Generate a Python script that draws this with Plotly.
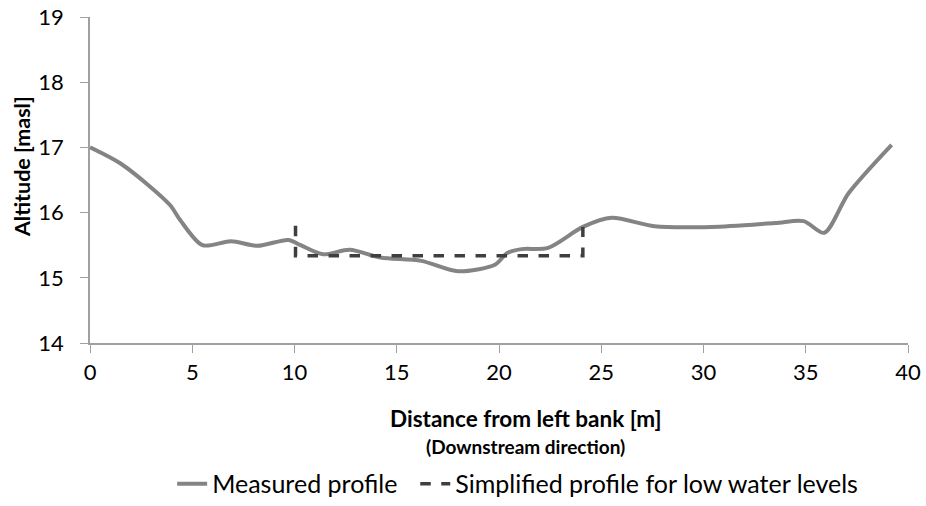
import plotly.graph_objects as go

# Measured profile
measured_x = [0, 1.6, 3.9, 4.4, 5.5, 6.9, 8.2, 9.7, 10.3, 11.4, 12.7, 14.2, 16.2, 18.0, 19.8, 20.4, 21.1, 22.4, 24.1, 25.5, 27.6, 30.4, 33.5, 34.9, 35.9, 37.1, 39.2]
measured_y = [17.0, 16.73, 16.12, 15.89, 15.50, 15.56, 15.49, 15.58, 15.50, 15.36, 15.43, 15.31, 15.26, 15.10, 15.20, 15.38, 15.44, 15.46, 15.78, 15.92, 15.79, 15.78, 15.84, 15.87, 15.69, 16.30, 17.04]

# Simplified profile for low water levels
simple_x = [10.05, 10.05, 24.1, 24.1]
simple_y = [15.80, 15.34, 15.34, 15.78]

x_ticks = [0, 5, 10, 15, 20, 25, 30, 35, 40]
y_ticks = [14, 15, 16, 17, 18, 19]

font = "Lato, 'Open Sans', sans-serif"

fig = go.Figure()
fig.add_trace(go.Scatter(x=measured_x, y=measured_y, mode="lines", name="Measured profile\u00a0\u00a0",
                         line=dict(color="#848484", width=4, shape="spline", smoothing=0.8)))
fig.add_trace(go.Scatter(x=simple_x, y=simple_y, mode="lines", name="Simplified profile for low water levels",
                         line=dict(color="#3f3f3f", width=3.5, dash="dash")))

fig.update_layout(
    width=926, height=506,
    margin=dict(l=90, r=18, t=17, b=163, autoexpand=False),
    plot_bgcolor="white", paper_bgcolor="white",
    font=dict(family=font, size=22, color="#000000"),
    showlegend=True,
    legend=dict(orientation="h", xref="container", yref="container",
                x=0.559, xanchor="center", y=0.0435, yanchor="middle",
                font=dict(size=25), traceorder="normal"),
    xaxis=dict(range=[0, 40], tickvals=x_ticks, showgrid=False, zeroline=False,
               showline=True, linecolor="#a0a0a0", linewidth=1.5, automargin=False,
               ticks="outside", ticklen=8, tickcolor="#a0a0a0", tickfont=dict(size=22),
               ticklabelstandoff=1, ticklabeloverflow="allow"),
    yaxis=dict(range=[14, 19], tickvals=y_ticks, showgrid=False, zeroline=False,
               showline=True, linecolor="#a0a0a0", linewidth=1.5, automargin=False,
               ticks="outside", ticklen=8, tickcolor="#a0a0a0", tickfont=dict(size=22),
               ticklabelstandoff=12, ticklabeloverflow="allow"),
    annotations=[
        dict(text="<b>Altitude [masl]</b>", x=-0.083, y=0.54, xref="paper", yref="paper",
             showarrow=False, font=dict(size=21.5), textangle=-90, xanchor="center", yanchor="middle"),
        dict(text="<b>Distance from left bank [m]</b>", x=0.532, y=-0.233, xref="paper", yref="paper",
             showarrow=False, font=dict(size=22.5), xanchor="center", yanchor="middle"),
        dict(text="<b>(Downstream direction)</b>", x=0.532, y=-0.316, xref="paper", yref="paper",
             showarrow=False, font=dict(size=19), xanchor="center", yanchor="middle"),
    ],
)

fig.write_html("out.html", config={"displayModeBar": False},
               post_script="document.body.style.margin='0';document.body.style.padding='0';")
